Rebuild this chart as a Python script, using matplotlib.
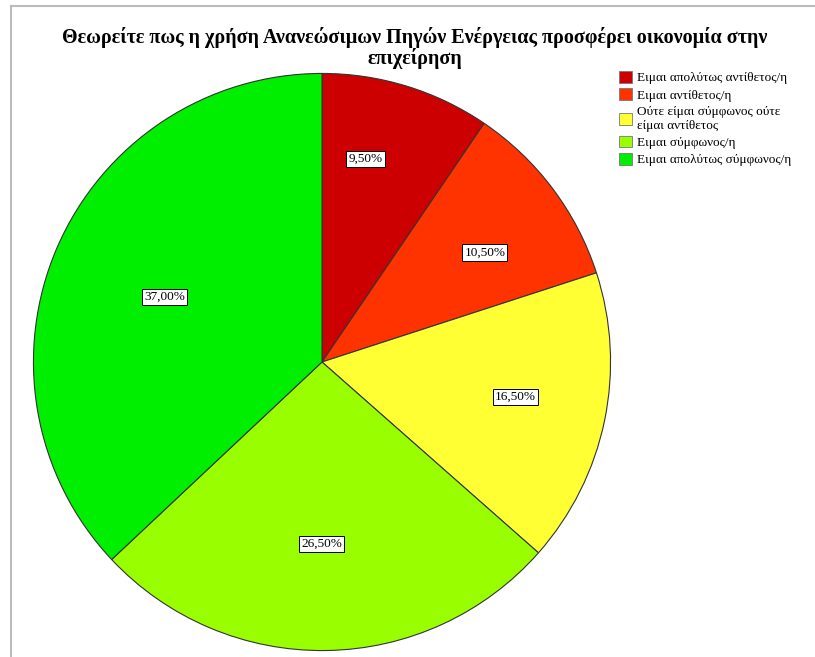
import numpy as np
import matplotlib.pyplot as plt
from matplotlib.lines import Line2D
from matplotlib.patches import Patch

plt.rcParams['font.family'] = ['Liberation Serif', 'DejaVu Serif']

# answers to the survey question, clockwise from the top
labels = ['Ειμαι απολύτως αντίθετος/η',
          'Ειμαι αντίθετος/η',
          'Ούτε είμαι σύμφωνος ούτε\nείμαι αντίθετος',
          'Ειμαι σύμφωνος/η',
          'Ειμαι απολύτως σύμφωνος/η']
shares = [9.5, 10.5, 16.5, 26.5, 37.0]
colors = ['#cc0000', '#ff3300', '#ffff33', '#99ff00', '#00ee00']

W, H = 815, 657
fig = plt.figure(figsize=(W / 100, H / 100), dpi=100)

# pie placed by pixel box: centre (322, 362), radius 290
cx, cy, r = 322, 362, 290
ax = fig.add_axes([(cx - r) / W, (H - cy - r) / H, 2 * r / W, 2 * r / H])

wedges, _ = ax.pie(
    shares, colors=colors, startangle=90, counterclock=False,
    wedgeprops=dict(edgecolor='#333333', linewidth=0.8),
)

# percentage boxes along each wedge's middle angle
label_r = [0.72, 0.68, 0.68, 0.63, 0.59]
label_shift = [5, -3, 1.5, -1, 1]  # degrees, nudged off the bisector
for w, v, lr, sh in zip(wedges, shares, label_r, label_shift):
    mid = np.deg2rad((w.theta1 + w.theta2) / 2 + sh)
    ax.text(lr * np.cos(mid), lr * np.sin(mid), f'{v:.2f}%'.replace('.', ','),
            ha='center', va='center', fontsize=9.5,
            bbox=dict(facecolor='white', edgecolor='black', linewidth=0.7, pad=1.5))

ax.set_xlim(-1.005, 1.005)
ax.set_ylim(-1.005, 1.005)
ax.set_aspect('equal')

fig.text(415 / W, 1 - 48 / H,
         'Θεωρείτε πως η χρήση Ανανεώσιμων Πηγών Ενέργειας προσφέρει οικονομία στην\nεπιχείρηση',
         ha='center', va='center', fontsize=14.5, fontweight='bold', linespacing=1.0)

handles = [Patch(facecolor=c, edgecolor='#777777', linewidth=0.6) for c in colors]
fig.legend(handles, labels, loc='upper left', bbox_to_anchor=(619 / W, 1 - 71 / H),
           frameon=False, fontsize=9.5, handlelength=1.0, handleheight=1.0,
           handletextpad=0.4, labelspacing=0.3, borderaxespad=0, borderpad=0)

# grey frame on the top and left edges
fig.add_artist(Line2D([11 / W, 1], [1 - 6 / H, 1 - 6 / H], color='#bbbbbb', lw=1.5))
fig.add_artist(Line2D([11 / W, 11 / W], [0, 1 - 6 / H], color='#bbbbbb', lw=1.5))

fig.savefig('out.png', dpi=100)
